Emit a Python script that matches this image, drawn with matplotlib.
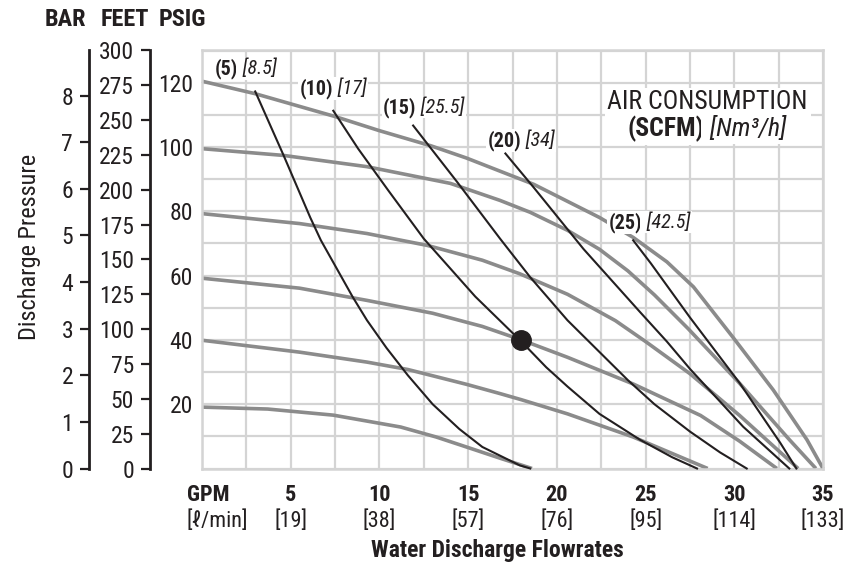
import numpy as np
import matplotlib
matplotlib.use('Agg')
import matplotlib.pyplot as plt
from matplotlib import font_manager

# 字体：优先用窄体（原图是 Helvetica Condensed 一类）
names = {f.name for f in font_manager.fontManager.ttflist}
FONT = 'DejaVu Sans'
for cand in ['Liberation Sans Narrow', 'Roboto Condensed', 'Open Sans Condensed']:
    if cand in names:
        FONT = cand
        break
plt.rcParams['font.family'] = [FONT, 'DejaVu Sans']
if FONT == 'DejaVu Sans':
    plt.rcParams['font.stretch'] = 'condensed'

INK = '#231f20'
GRAY = '#8b8b8b'
GRID = '#d4d4d4'

# 泵性能曲线（灰色，按进气压力 psig），流量 GPM / 出口压力 psig
g120_x = [0, 3.0, 7.5, 10.0, 12.9, 14.9, 18.7, 22.4, 24.3, 26.2, 27.7, 29.9, 32.2, 34.1, 35.0]
g120_y = [120.5, 116.6, 109.5, 105.1, 100.4, 96.6, 88.4, 78.1, 71.9, 64.3, 56.5, 41.0, 24.4, 8.9, 0]
g100_x = [0, 4.6, 9.3, 14.0, 16.8, 18.5, 20.6, 22.4, 24.0, 25.5, 27.4, 30.3, 33.1, 34.6]
g100_y = [99.5, 97.4, 93.9, 88.7, 83.4, 79.7, 74.1, 68.2, 61.5, 54.0, 43.5, 26.5, 9.0, 0]
g80_x = [0, 5.5, 9.3, 12.7, 15.8, 17.9, 20.6, 23.3, 25.0, 27.5, 30.3, 33.6]
g80_y = [79.3, 76.2, 73.1, 69.4, 64.8, 60.6, 54.2, 46.0, 39.5, 29.5, 16.5, 0]
g60_x = [0, 5.5, 9.3, 13.0, 15.8, 18.0, 20.6, 24.3, 28.1, 30.3, 32.4]
g60_y = [59.2, 56.1, 52.3, 48.3, 44.2, 40.0, 34.6, 26.3, 16.5, 8.5, 0]
g40_x = [0, 5.5, 9.3, 11.6, 14.9, 16.8, 18.0, 20.6, 24.3, 28.5]
g40_y = [39.9, 36.2, 33.1, 30.8, 26.2, 23.3, 21.4, 17.0, 9.8, 0]
g20_x = [0, 3.7, 7.4, 11.2, 13.2, 14.9, 16.8, 18.6]
g20_y = [19.1, 18.5, 16.6, 12.9, 9.8, 6.7, 3.2, 0]

# 耗气量曲线（黑色，SCFM）
a5_x = [3.0, 4.6, 6.1, 6.7, 8.5, 9.3, 10.4, 11.6, 13.0, 14.5, 15.8, 17.9, 18.5]
a5_y = [117.3, 97.4, 78.1, 71.0, 53.3, 46.1, 37.5, 29.0, 20.0, 12.3, 6.7, 1.0, 0]
a10_x = [7.4, 8.8, 10.5, 12.5, 15.4, 18.0, 19.4, 20.6, 22.4, 24.7, 26.5, 27.9]
a10_y = [111.3, 99.5, 86.5, 71.5, 53.5, 39.5, 31.5, 25.5, 17.0, 8.9, 3.5, 0]
a15_x = [11.9, 14.4, 16.8, 18.5, 20.6, 22.3, 24.0, 25.5, 27.5, 29.2, 30.7]
a15_y = [106.7, 89.0, 71.5, 59.5, 46.1, 36.8, 27.5, 20.0, 11.5, 5.0, 0]
a20_x = [17.1, 18.7, 21.5, 24.7, 26.2, 27.5, 29.0, 30.5, 32.0, 33.1]
a20_y = [98.0, 87.4, 68.3, 48.6, 39.5, 31.0, 22.0, 13.0, 5.5, 0]
a25_x = [24.3, 25.3, 27.5, 30.3, 32.6, 33.5]
a25_y = [71.0, 63.8, 47.0, 26.6, 7.9, 0]

# 曲线标签
scfm_vals = [5, 10, 15, 20, 25]
nm3_vals = ['8.5', '17', '25.5', '34', '42.5']
lab_x = [0.7, 5.5, 10.2, 16.1, 22.9]
lab_y = [124.4, 118.2, 112.4, 102.0, 76.6]

# 工作点
duty_gpm = 18.0
duty_psig = 39.9

# 坐标轴刻度
gpm_ticks = [5, 10, 15, 20, 25, 30, 35]
lpm_labels = ['19', '38', '57', '76', '95', '114', '133']
psig_labels = [20, 40, 60, 80, 100, 120]
bar_ticks = [0, 1, 2, 3, 4, 5, 6, 7, 8]
feet_ticks = [0, 25, 50, 75, 100, 125, 150, 175, 200, 225, 250, 275, 300]

fig = plt.figure(figsize=(8.48, 5.71), dpi=100)
ax = fig.add_axes([202 / 848, (571 - 468.5) / 571, 621 / 848, 418.5 / 571])
ax.set_xlim(0, 35)
ax.set_ylim(0, 130.2)

ax.set_xticks(np.arange(0, 35.1, 2.5))
ax.set_xticklabels([])
ax.tick_params(axis='x', length=0)
yt = np.arange(0, 131, 10)
ax.set_yticks(yt, labels=[str(v) if v in psig_labels else '' for v in yt])
ax.tick_params(axis='y', length=0, pad=6.5, labelsize=17, labelcolor=INK)
ax.grid(True, color=GRID, lw=1.6, zorder=0)
ax.set_axisbelow(True)
for s in ax.spines.values():
    s.set_color(GRID)
    s.set_linewidth(1.8)

# 灰色泵曲线
for xs, ys in [(g120_x, g120_y), (g100_x, g100_y), (g80_x, g80_y),
               (g60_x, g60_y), (g40_x, g40_y), (g20_x, g20_y)]:
    ax.plot(xs, ys, color=GRAY, lw=2.6, solid_joinstyle='round', solid_capstyle='butt', zorder=2, clip_on=False)

# 黑色耗气曲线
for xs, ys in [(a5_x, a5_y), (a10_x, a10_y), (a15_x, a15_y), (a20_x, a20_y), (a25_x, a25_y)]:
    ax.plot(xs, ys, color=INK, lw=1.5, solid_joinstyle='round', zorder=3, clip_on=False)

ax.plot(duty_gpm, duty_psig, 'o', ms=14, color=INK, zorder=5)

# 曲线标签 (5) [8.5] ...
wbox = dict(fc='white', ec='none', pad=1.0)
for x, y, s, n in zip(lab_x, lab_y, scfm_vals, nm3_vals):
    t = ax.text(x, y, f'({s})', fontsize=14.5, fontweight='bold', color=INK,
                ha='left', va='center', zorder=6, bbox=wbox)
    ax.annotate(f' [{n}]', xy=(1, 0.5), xycoords=t, fontsize=14.5, fontstyle='italic',
                color=INK, ha='left', va='center', zorder=6, bbox=wbox)

# AIR CONSUMPTION 说明
ax.text(28.5, 113.9, 'AIR CONSUMPTION', fontsize=18.5, color=INK, ha='center', va='center',
        zorder=6, bbox=dict(fc='white', ec='none', pad=2))
t = ax.text(28.3, 105.7, '(SCFM)', fontsize=18.5, fontweight='bold', color=INK,
            ha='right', va='center', zorder=6, bbox=dict(fc='white', ec='none', pad=2))
ax.annotate(' [Nm³/h]', xy=(1, 0.5), xycoords=t, fontsize=18.5, fontstyle='italic',
            color=INK, ha='left', va='center', zorder=6, bbox=dict(fc='white', ec='none', pad=2))

# x 轴标签（两行）
xt = ax.get_xaxis_transform()
for g, l in zip(gpm_ticks, lpm_labels):
    ax.text(g, -0.063, str(g), transform=xt, fontsize=16, fontweight='bold', color=INK,
            ha='center', va='center')
    ax.text(g, -0.125, f'[{l}]', transform=xt, fontsize=16, color=INK, ha='center', va='center')
ax.text(-0.85, -0.063, 'GPM', transform=xt, fontsize=16, fontweight='bold', color=INK,
        ha='left', va='center')
ax.text(-0.85, -0.125, '[ℓ/min]', transform=xt, fontsize=16, color=INK, ha='left', va='center')
fig.text(497 / 848, (571 - 551) / 571, 'Water Discharge Flowrates', fontsize=17,
         fontweight='bold', color=INK, ha='center', va='center')

# BAR / FEET 副轴
bar_ax = ax.secondary_yaxis((89 - 202) / 621, functions=(lambda p: p / 14.5038, lambda b: b * 14.5038))
bar_ax.set_yticks(bar_ticks)
feet_ax = ax.secondary_yaxis((150 - 202) / 621, functions=(lambda p: p * 2.3067, lambda f: f / 2.3067))
feet_ax.set_yticks(feet_ticks)
for a in (bar_ax, feet_ax):
    a.tick_params(length=6.5, width=1.6, pad=5, labelsize=17, color=INK, labelcolor=INK)
    for s in a.spines.values():
        s.set_color(INK)
        s.set_linewidth(2.0)

fig.text(30 / 848, (571 - 247) / 571, 'Discharge Pressure', rotation=90, fontsize=17.5,
         color=INK, ha='center', va='center')
for label, cx in [('BAR', 65), ('FEET', 125), ('PSIG', 182)]:
    fig.text(cx / 848, (571 - 20) / 571, label, fontsize=17.5, fontweight='bold', color=INK,
             ha='center', va='center')

fig.savefig('out.png', dpi=100)
